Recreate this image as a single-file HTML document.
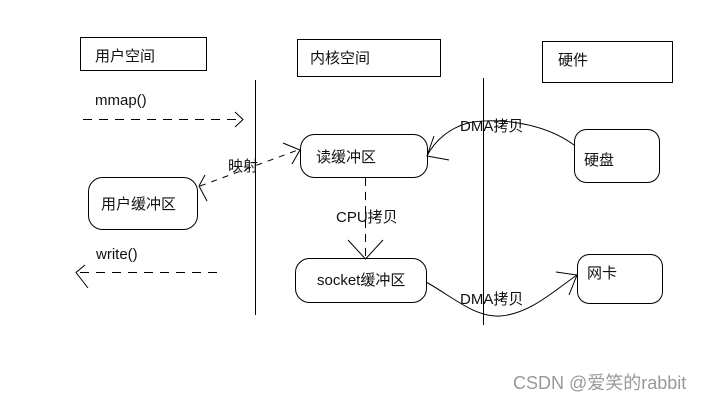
<!DOCTYPE html>
<html><head><meta charset="utf-8"><style>
body{margin:0;background:#fff;}
svg text{font-family:"Liberation Sans","Noto Sans CJK SC",sans-serif;font-size:15px;fill:#111;}
</style></head><body>
<svg width="711" height="402" viewBox="0 0 711 402" xmlns="http://www.w3.org/2000/svg">
<g fill="none" stroke="#000" stroke-width="1">
<rect x="80.5" y="37.5" width="126" height="33"/>
<rect x="297.5" y="39.5" width="143" height="37"/>
<rect x="542.5" y="41.5" width="130" height="41"/>
<line x1="255.5" y1="80" x2="255.5" y2="315"/>
<line x1="483.5" y1="78" x2="483.5" y2="325"/>
<rect x="300.5" y="134.5" width="127" height="43" rx="14"/>
<rect x="88.5" y="177.5" width="109" height="52" rx="14"/>
<rect x="295.5" y="258.5" width="131" height="44" rx="14"/>
<rect x="574.5" y="129.5" width="85" height="53" rx="12"/>
<rect x="577.5" y="254.5" width="85" height="49" rx="12"/>
<line x1="83" y1="119.5" x2="243" y2="119.5" stroke-dasharray="9,7"/>
<polyline points="235,112 243,119.5 235,127"/>
<line x1="217" y1="272.5" x2="78" y2="272.5" stroke-dasharray="9,7"/>
<polyline points="85,265 76,272.5 88,288"/>
<line x1="200" y1="186" x2="298" y2="150" stroke-dasharray="6,6"/>
<polyline points="205,175 199,186 207,201"/>
<polyline points="283,143 300,150 292,164"/>
<line x1="365.5" y1="178" x2="365.5" y2="258" stroke-dasharray="8,6"/>
<polyline points="348,240 365.5,259 383,240"/>
<path d="M574,145 C540,120 490,118 468,123 C450,128 435,140 427,156"/>
<polyline points="434,136 427,156 449,160"/>
<path d="M426,282 C450,295 475,318 500,316 C530,314 555,290 577,275"/>
<polyline points="556,272 577,275 569,295"/>
</g>
<text x="95" y="61">用户空间</text>
<text x="310" y="63">内核空间</text>
<text x="558" y="65">硬件</text>
<text x="95" y="105">mmap()</text>
<text x="316" y="162">读缓冲区</text>
<text x="228" y="171">映射</text>
<text x="101" y="209">用户缓冲区</text>
<text x="336" y="222">CPU拷贝</text>
<text x="96" y="259">write()</text>
<text x="317" y="285">socket缓冲区</text>
<text x="460" y="131">DMA拷贝</text>
<text x="460" y="304">DMA拷贝</text>
<text x="584" y="165">硬盘</text>
<text x="587" y="278">网卡</text>
<text x="513" y="389" style="fill:#999;font-size:18px">CSDN @爱笑的rabbit</text>
</svg>
</body></html>
